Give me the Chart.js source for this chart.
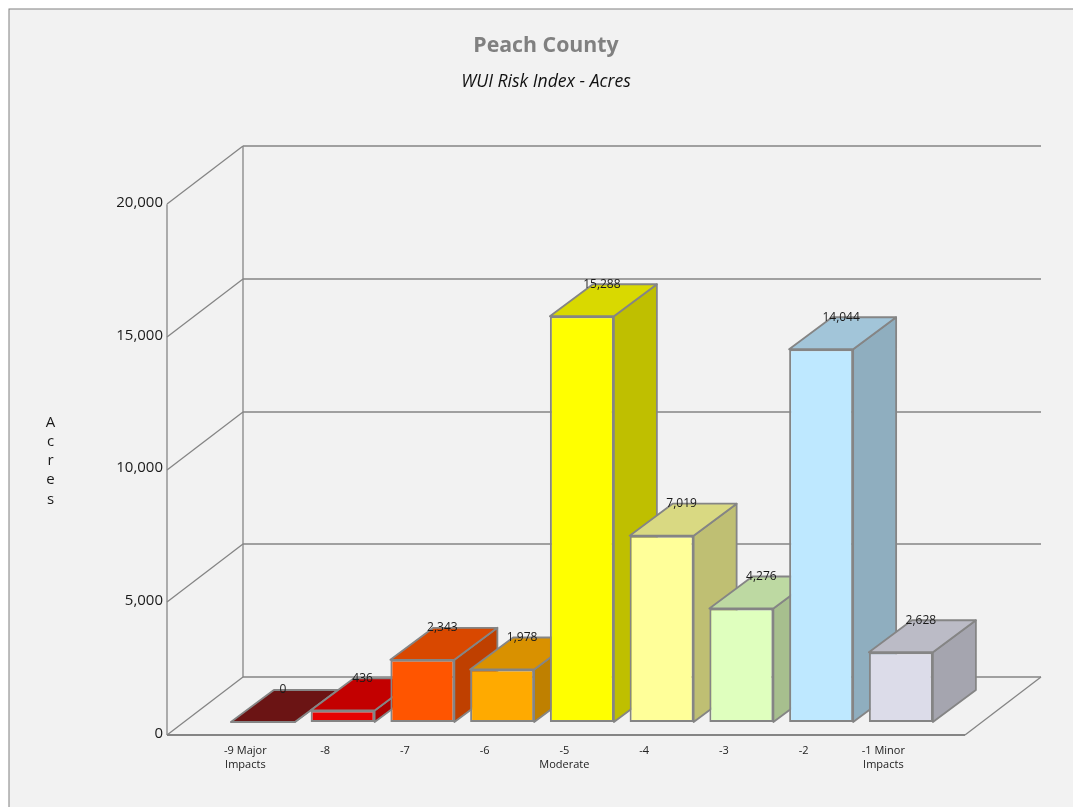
<!DOCTYPE html>
<html>
<head>
<meta charset="utf-8">
<style>
html,body{margin:0;padding:0;background:#fff;overflow:hidden;width:1073px;height:807px}
canvas{display:block}
</style>
<script src="https://cdn.jsdelivr.net/npm/chart.js@4"></script>
</head>
<body>
<canvas id="c" width="1092" height="807" style="width:1092px;height:807px"></canvas>
<script>
const categories = [['-9 Major','Impacts'],'-8','-7','-6',['-5','Moderate'],'-4','-3','-2',['-1 Minor','Impacts']];
const acres = [0,436,2343,1978,15288,7019,4276,14044,2628];
const frontColors = ['#7e1717','#e60000','#ff5500','#ffaa00','#ffff00','#ffff99','#dfffbe','#bee8ff','#dcdce9'];
const topColors   = ['#6b1414','#c30000','#d94800','#d99100','#d9d900','#d9d982','#bdd9a2','#a2c5d9','#bbbbc6'];
const sideColors  = ['#5e1111','#ad0000','#bf4000','#bf8000','#bfbf00','#bfbf73','#a7bf8e','#8faebf','#a5a5af'];
const yTicks = [0,5000,10000,15000,20000];
const titleText = 'Peach County';
const subtitleText = 'WUI Risk Index - Acres';
const axisTitle = 'Acres';
const FONT = '"Open Sans", sans-serif';
const LINE = '#858585';
const WALL = {dx:76, dy:-58};     // depth of the floor/walls
const BAR = {dx:43, dy:-32};      // depth of each bar
const INSET = {dx:18, dy:-13};    // front plane of bars relative to the axis plane

function poly(ctx, pts, fill){
  ctx.beginPath();
  pts.forEach((p,i)=> i ? ctx.lineTo(p[0],p[1]) : ctx.moveTo(p[0],p[1]));
  ctx.closePath();
  ctx.fillStyle = fill; ctx.fill();
  ctx.strokeStyle = LINE; ctx.lineWidth = 1.8; ctx.lineJoin='round'; ctx.stroke();
}
function seg(ctx,x1,y1,x2,y2,w){
  ctx.beginPath(); ctx.moveTo(x1,y1); ctx.lineTo(x2,y2);
  ctx.lineWidth = w; ctx.strokeStyle = LINE; ctx.stroke();
}

const scene = {
  id:'scene',
  beforeDraw(chart){
    const ctx = chart.ctx;
    ctx.save();
    ctx.fillStyle='#ffffff'; ctx.fillRect(0,0,chart.width,chart.height);
    ctx.fillStyle='#f2f2f2'; ctx.fillRect(9,9,chart.width+20,chart.height+20);
    ctx.strokeStyle='#808080'; ctx.lineWidth=1; ctx.strokeRect(9,9,chart.width+20,chart.height+20);
    ctx.restore();
  },
  beforeDatasetsDraw(chart){
    const ctx = chart.ctx, y = chart.scales.y, a = chart.chartArea;
    const L = a.left-38, R = a.right+42.25;
    ctx.save();
    yTicks.forEach(v=>{
      const p = Math.round(y.getPixelForValue(v));
      seg(ctx,L,p,L+WALL.dx,p+WALL.dy,1.3);
      seg(ctx,L+WALL.dx,p+WALL.dy,R+WALL.dx,p+WALL.dy,1.3);
    });
    const y0 = y.getPixelForValue(0), yT = y.getPixelForValue(yTicks[yTicks.length-1]);
    seg(ctx,L,yT,L,y0,1.3);
    seg(ctx,L+WALL.dx,yT+WALL.dy,L+WALL.dx,y0+WALL.dy,1.3);
    seg(ctx,L,y0,R,y0,1.8);
    seg(ctx,R,y0,R+WALL.dx,y0+WALL.dy,1.3);
    ctx.translate(INSET.dx,INSET.dy);
    // side and top faces, left to right, behind all the front faces
    chart.getDatasetMeta(0).data.forEach((bar,i)=>{
      const h = bar.getProps(['x','y','base','width']);
      const l = h.x-h.width/2, r = h.x+h.width/2;
      poly(ctx,[[r,h.y],[r+BAR.dx,h.y+BAR.dy],[r+BAR.dx,h.base+BAR.dy],[r,h.base]],sideColors[i]);
      poly(ctx,[[l,h.y],[l+BAR.dx,h.y+BAR.dy],[r+BAR.dx,h.y+BAR.dy],[r,h.y]],topColors[i]);
    });
    // keep the translation for the library's own front faces
  },
  afterDatasetsDraw(chart){
    const ctx = chart.ctx;
    ctx.restore();
    ctx.save();
    ctx.font = '12px '+FONT; ctx.fillStyle='#1a1a1a';
    ctx.textAlign='center'; ctx.textBaseline='middle';
    chart.getDatasetMeta(0).data.forEach((bar,i)=>{
      ctx.fillText(acres[i].toLocaleString('en-US'), bar.x+INSET.dx+20, bar.y+INSET.dy-32);
    });
    ctx.font = '15px '+FONT; ctx.fillStyle='#1a1a1a';
    [...axisTitle].forEach((ch,i)=> ctx.fillText(ch,50.5,422.5+i*19.2));
    ctx.restore();
  }
};

new Chart(document.getElementById('c'),{
  type:'bar',
  data:{labels:categories,datasets:[{
    data:acres,
    backgroundColor:frontColors,
    borderColor:LINE,
    borderWidth:2,
    borderSkipped:false,
    categoryPercentage:0.8025,
    barPercentage:1,
    clip:false
  }]},
  plugins:[scene],
  options:{
    responsive:false,
    animation:false,
    plugins:{
      legend:{display:false},
      tooltip:{enabled:false},
      title:{display:true,text:titleText,color:'#808080',
        font:{family:FONT,size:21.3,weight:'bold'},padding:{top:33.5,bottom:0}},
      subtitle:{display:true,text:subtitleText,color:'#111111',
        font:{family:FONT,size:17.6,style:'italic',weight:'normal'},padding:{top:12,bottom:112}}
    },
    scales:{
      x:{
        grid:{display:false,drawTicks:false},border:{display:false},
        afterFit(s){s.height=72;},
        ticks:{color:'#222222',padding:8.5,labelOffset:0.5,maxRotation:0,autoSkip:false,
          font:{family:FONT,size:11,lineHeight:1.27}}
      },
      y:{
        min:0,max:20000,
        grid:{display:false,drawTicks:false},border:{display:false},
        afterFit(s){s.width=205;},
        afterBuildTicks(s){s.ticks=yTicks.map(v=>({value:v}));},
        ticks:{color:'#1a1a1a',padding:42,labelOffset:-1.5,
          font:{family:FONT,size:15},
          callback:v=>v.toLocaleString('en-US')}
      },
      rightMargin:{
        position:'right',display:true,
        grid:{display:false,drawTicks:false},border:{display:false},
        ticks:{display:false},
        afterFit(s){s.width=169.25;}
      }
    }
  }
});
</script>
</body>
</html>
